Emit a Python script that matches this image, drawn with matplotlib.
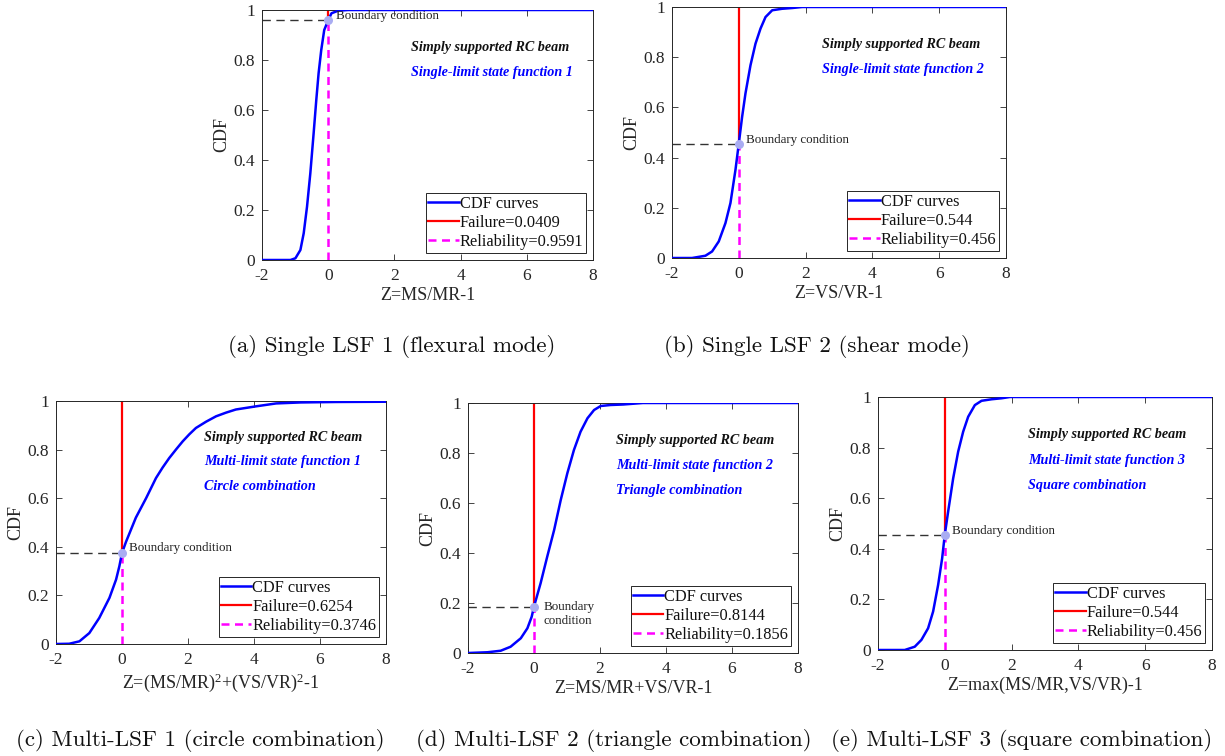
import numpy as np
import matplotlib
matplotlib.use("Agg")
import matplotlib.pyplot as plt
from matplotlib.ticker import FixedLocator, FuncFormatter

plt.rcParams["font.family"] = ["Liberation Serif", "DejaVu Serif"]
plt.rcParams["axes.unicode_minus"] = False
plt.rcParams["mathtext.fontset"] = "custom"
plt.rcParams["mathtext.rm"] = "Liberation Serif"
plt.rcParams["mathtext.it"] = "Liberation Serif:italic"

# ---- CDF curves of each limit state function ----
z_a = [-2, -1.14, -0.99, -0.84, -0.74, -0.64, -0.54, -0.44, -0.36, -0.29, -0.21,
       -0.12, 0.0, 0.1, 0.3, 0.6, 8]
cdf_a = [0, 0, 0.007, 0.04, 0.107, 0.213, 0.347, 0.507, 0.64, 0.747, 0.84,
         0.92, 0.9591, 0.987, 0.997, 1.0, 1.0]

z_b = [-2, -1.4, -1.0, -0.8, -0.6, -0.4, -0.25, -0.1, 0.0, 0.1, 0.2, 0.35, 0.5,
       0.65, 0.8, 1.0, 1.3, 1.6, 1.9, 8]
cdf_b = [0, 0, 0.009, 0.026, 0.066, 0.139, 0.219, 0.351, 0.456, 0.563, 0.656,
         0.768, 0.854, 0.914, 0.96, 0.987, 0.993, 0.996, 1.0, 1.0]

z_c = [-2, -1.6, -1.29, -0.99, -0.69, -0.38, -0.18, -0.08, 0.0, 0.12, 0.42, 0.73,
       1.03, 1.23, 1.43, 1.64, 1.84, 2.04, 2.24, 2.55, 2.85, 3.15, 3.45, 4.06,
       4.67, 5.4, 6.5, 8]
cdf_c = [0, 0.001, 0.011, 0.045, 0.107, 0.19, 0.265, 0.32, 0.3746, 0.42, 0.52,
         0.60, 0.683, 0.726, 0.765, 0.801, 0.834, 0.863, 0.889, 0.915, 0.937,
         0.952, 0.965, 0.978, 0.99, 0.994, 0.996, 0.997]

z_d = [-2, -1.41, -1.01, -0.71, -0.40, -0.2, -0.07, 0.0, 0.2, 0.4, 0.61, 0.81,
       1.01, 1.21, 1.41, 1.62, 1.82, 2.02, 2.32, 2.7, 3.0, 3.3, 8]
cdf_d = [0, 0.003, 0.009, 0.025, 0.059, 0.099, 0.145, 0.1856, 0.279, 0.385, 0.492,
         0.612, 0.719, 0.812, 0.885, 0.939, 0.972, 0.988, 0.992, 0.994, 0.997,
         1.0, 1.0]

z_e = [-2, -1.2, -0.9, -0.7, -0.5, -0.35, -0.2, -0.08, 0.0, 0.1, 0.25, 0.4, 0.55,
       0.7, 0.9, 1.1, 1.4, 1.7, 1.95, 8]
cdf_e = [0, 0, 0.013, 0.04, 0.086, 0.152, 0.257, 0.362, 0.456, 0.547, 0.678,
         0.784, 0.863, 0.922, 0.968, 0.985, 0.991, 0.995, 1.0, 1.0]

failure = [0.0409, 0.544, 0.6254, 0.8144, 0.544]
reliability = [0.9591, 0.456, 0.3746, 0.1856, 0.456]
failure_labels = ["0.0409", "0.544", "0.6254", "0.8144", "0.544"]
reliability_labels = ["0.9591", "0.456", "0.3746", "0.1856", "0.456"]

x_labels = ["Z=MS/MR-1", "Z=VS/VR-1", "Z=(MS/MR)$^{2}$+(VS/VR)$^{2}$-1",
            "Z=MS/MR+VS/VR-1", "Z=max(MS/MR,VS/VR)-1"]
info_lines = [
    ["Single-limit state function 1"],
    ["Single-limit state function 2"],
    ["Multi-limit state function 1", "Circle combination"],
    ["Multi-limit state function 2", "Triangle combination"],
    ["Multi-limit state function 3", "Square combination"],
]
captions = ["(a) Single LSF 1 (flexural mode)", "(b) Single LSF 2 (shear mode)",
            "(c) Multi-LSF 1 (circle combination)",
            "(d) Multi-LSF 2 (triangle combination)",
            "(e) Multi-LSF 3 (square combination)"]
boundary_text = ["Boundary condition", "Boundary condition", "Boundary condition",
                 "Boundary\ncondition", "Boundary condition"]

x_ticks = [-2, 0, 2, 4, 6, 8]
y_ticks = [0, 0.2, 0.4, 0.6, 0.8, 1]

curves = [(z_a, cdf_a), (z_b, cdf_b), (z_c, cdf_c), (z_d, cdf_d), (z_e, cdf_e)]

W, H = 1225, 756
fig = plt.figure(figsize=(W / 100, H / 100), dpi=100)

# axes boxes in pixels: left, top, right, bottom
boxes = [(262, 10, 593, 260), (672, 7, 1006, 258), (56, 401, 386, 644),
         (468, 403, 798, 653), (878, 397, 1212, 650)]
caption_pos = [(392, 347), (817, 347), (200, 740), (614, 740), (1022, 740)]
boundary_offset = [(0.24, 0.976), (0.21, 0.47), (0.22, 0.396), (0.30, 0.157),
                   (0.23, 0.471)]

edge = "#262626"
for i in range(5):
    l, t, r, b = boxes[i]
    ax = fig.add_axes([l / W, (H - b) / H, (r - l) / W, (b - t) / H])
    z, cdf = curves[i]
    ax.plot(z, cdf, color="blue", lw=1.8, label="CDF curves", zorder=3,
            solid_joinstyle="round")
    ax.plot([0, 0], [reliability[i], 1], color="red", lw=1.6,
            label="Failure=" + failure_labels[i], zorder=2)
    ax.plot([0, 0], [0, reliability[i]], color="magenta", lw=1.8,
            ls=(0, (3.2, 2.2)), label="Reliability=" + reliability_labels[i],
            zorder=2)
    ax.plot([-2, 0], [reliability[i], reliability[i]], color="#333333", lw=1.0,
            ls=(0, (6, 4)), zorder=2)
    ax.plot([0], [reliability[i]], "o", ms=6.5, color="#a9acf2", mec="none",
            zorder=4)
    bx, by = boundary_offset[i]
    ax.text(bx, by, boundary_text[i], fontsize=9.4, ha="left", va="center",
            color="#222222", linespacing=1.25)

    ax.text(2.5, 0.85, "Simply supported RC beam", fontsize=10.2,
            fontweight="bold", fontstyle="italic", color="#111111",
            ha="left", va="center")
    for k, line in enumerate(info_lines[i]):
        ax.text(2.5, 0.75 - 0.1 * k, line, fontsize=10.2, fontweight="bold",
                fontstyle="italic", color="blue", ha="left", va="center")

    ax.set_xlim(-2, 8)
    ax.set_ylim(0, 1)
    ax.xaxis.set_major_locator(FixedLocator(x_ticks))
    ax.yaxis.set_major_locator(FixedLocator(y_ticks))
    ax.xaxis.set_major_formatter(FuncFormatter(lambda v, p: "%g" % v))
    ax.yaxis.set_major_formatter(FuncFormatter(lambda v, p: "%g" % v))
    ax.tick_params(direction="in", top=True, right=True, length=4, width=0.6,
                   color=edge, labelsize=12.5, labelcolor="#262626")
    ax.tick_params(axis="x", pad=6)
    ax.tick_params(axis="y", pad=5)
    for s in ax.spines.values():
        s.set_color(edge)
        s.set_linewidth(0.7)
    ax.set_xlabel(x_labels[i], fontsize=13, color="#262626", labelpad=2)
    ax.set_ylabel("CDF", fontsize=13, color="#262626", labelpad=2)

    leg = ax.legend(loc="lower right", fontsize=11.8, frameon=True,
                    fancybox=False, edgecolor="#262626", framealpha=1,
                    borderpad=0.15, labelspacing=0.2, handlelength=1.85,
                    handletextpad=0.05, borderaxespad=0.45)
    leg.get_frame().set_linewidth(0.7)
    for txt in leg.get_texts():
        txt.set_color("#111111")

    cx, cy = caption_pos[i]
    fig.text(cx / W, (H - cy) / H, captions[i], family="cmr10", fontsize=16.6,
             ha="center", va="center", color="#111111")

fig.savefig("out.png", dpi=100)
